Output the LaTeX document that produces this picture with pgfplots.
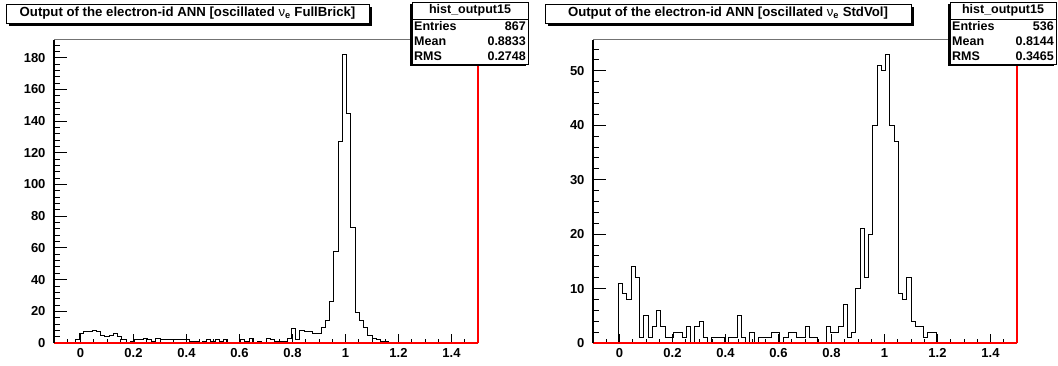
\documentclass[border=0pt]{standalone}
\usepackage{pgfplots}
\pgfplotsset{compat=1.18}
\usepackage{fontspec}
\setmainfont{Liberation Sans}
\newcommand{\tickfont}{\fontsize{13}{13}\selectfont\bfseries}
\newcommand{\boxfont}{\fontsize{12.5}{12.5}\selectfont\bfseries}
\newcommand{\titlefont}{\fontsize{13.2}{13.2}\selectfont\bfseries}
\pgfplotsset{
  rootbase/.style={
    scale only axis, anchor=south west, width=424pt, height=303pt,
    xmin=-0.1, xmax=1.5, clip=false,
    axis line style={draw=none},
    tick align=inside, tick pos=left,
    tick style={black, line width=0.8pt},
    /pgf/number format/assume math mode=true,
    tick label style={font=\tickfont},
  },
  yaxisonly/.style={rootbase, xtick=\empty, major tick length=12.7pt, minor tick length=6.3pt,
    yticklabel style={xshift=-5pt}},
  xaxisonly/.style={rootbase, ytick=\empty, ymin=0, ymax=1,
    xtick={0,0.2,0.4,0.6,0.8,1,1.2,1.4},
    minor xtick={-0.1,-0.05,...,1.5},
    major tick length=9pt, minor tick length=4.5pt,
    xticklabel style={yshift=-2pt}},
}
\begin{document}
\begin{tikzpicture}
\fill[white] (0pt,0pt) rectangle (1058pt,365pt);
\useasboundingbox (0pt,0pt) rectangle (1058pt,365pt);

% ---------------- left panel ----------------
\begin{axis}[xaxisonly, at={(54pt,22pt)}]
\end{axis}
\begin{axis}[yaxisonly, at={(54pt,22pt)}, ymin=0, ymax=191.1,
  ytick={0,20,...,180}, minor ytick={0,4,...,188}]
\draw[black!55, line width=1pt] (axis cs:-0.1,191.1) -- (axis cs:1.5,191.1);
\addplot[const plot, black, line width=1pt] coordinates {
(-0.100,0) (-0.084,0) (-0.068,0) (-0.052,0) (-0.036,0) (-0.020,2) (-0.004,6) (0.012,7) (0.028,7) (0.044,8)
(0.060,7) (0.076,5) (0.092,4) (0.108,5) (0.124,6) (0.140,4) (0.156,2) (0.172,0) (0.188,1) (0.204,2)
(0.220,2) (0.236,3) (0.252,2) (0.268,1) (0.284,3) (0.300,2) (0.316,2) (0.332,2) (0.348,2) (0.364,2)
(0.380,2) (0.396,2) (0.412,1) (0.428,1) (0.444,0) (0.460,1) (0.476,2) (0.492,1) (0.508,2) (0.524,1)
(0.540,2) (0.556,0) (0.572,0) (0.588,0) (0.604,2) (0.620,1) (0.636,3) (0.652,0) (0.668,1) (0.684,0)
(0.700,3) (0.716,2) (0.732,1) (0.748,1) (0.764,1) (0.780,3) (0.796,9) (0.812,2) (0.828,8) (0.844,7)
(0.860,7) (0.876,6) (0.892,6) (0.908,10) (0.924,14) (0.940,26) (0.956,58) (0.972,127) (0.988,182) (1.004,145)
(1.020,73) (1.036,19) (1.052,14) (1.068,10) (1.084,5) (1.100,3) (1.116,2) (1.132,1) (1.148,1) (1.164,0)
(1.180,0) (1.196,0) (1.500,0)
};
\draw[red, line width=1.2pt] (axis cs:-0.1,0) -- (axis cs:1.5,0);
\draw[red, line width=1.4pt] (axis cs:1.5,0) -- (axis cs:1.5,191.1);
\draw[black, line width=1.3pt] (axis cs:-0.1,0) -- (axis cs:-0.1,191.1);
\end{axis}

% ---------------- right panel ----------------
\begin{axis}[xaxisonly, at={(593pt,22pt)}]
\end{axis}
\begin{axis}[yaxisonly, at={(593pt,22pt)}, ymin=0, ymax=55.65,
  ytick={0,10,...,50}, minor ytick={0,2,...,54}]
\draw[black!55, line width=1pt] (axis cs:-0.1,55.65) -- (axis cs:1.5,55.65);
\addplot[const plot, black, line width=1pt] coordinates {
(-0.100,0) (-0.084,0) (-0.068,0) (-0.052,0) (-0.036,0) (-0.020,0) (-0.004,11) (0.012,9) (0.028,8) (0.044,14)
(0.060,12) (0.076,1) (0.092,5) (0.108,1) (0.124,3) (0.140,6) (0.156,3) (0.172,1) (0.188,1) (0.204,2)
(0.220,2) (0.236,1) (0.252,3) (0.268,0) (0.284,3) (0.300,4) (0.316,1) (0.332,0) (0.348,1) (0.364,1)
(0.380,1) (0.396,0) (0.412,1) (0.428,1) (0.444,5) (0.460,1) (0.476,0) (0.492,2) (0.508,0) (0.524,1)
(0.540,1) (0.556,1) (0.572,2) (0.588,2) (0.604,0) (0.620,1) (0.636,2) (0.652,2) (0.668,1) (0.684,1)
(0.700,3) (0.716,1) (0.732,1) (0.748,0) (0.764,0) (0.780,3) (0.796,2) (0.812,2) (0.828,3) (0.844,7)
(0.860,1) (0.876,2) (0.892,10) (0.908,21) (0.924,12) (0.940,20) (0.956,40) (0.972,51) (0.988,50) (1.004,53)
(1.020,40) (1.036,37) (1.052,9) (1.068,8) (1.084,12) (1.100,4) (1.116,3) (1.132,3) (1.148,1) (1.164,2)
(1.180,2) (1.196,0) (1.500,0)
};
\draw[red, line width=1.2pt] (axis cs:-0.1,0) -- (axis cs:1.5,0);
\draw[red, line width=1.4pt] (axis cs:1.5,0) -- (axis cs:1.5,55.65);
\draw[black, line width=1.3pt] (axis cs:-0.1,0) -- (axis cs:-0.1,55.65);
\end{axis}

% ---------------- titles ----------------
\fill[black] (9pt,339pt) rectangle (372pt,358pt);
\draw[fill=white, line width=0.8pt] (6pt,342pt) rectangle (369pt,361pt);
\node[font=\titlefont, inner sep=0pt] at (187.5pt,351.5pt) {Output of the electron-id ANN [oscillated {\mdseries ν}\textsubscript{e} FullBrick]};

\fill[black] (548pt,339pt) rectangle (914pt,358pt);
\draw[fill=white, line width=0.8pt] (545pt,342pt) rectangle (911pt,361pt);
\node[font=\titlefont, inner sep=0pt] at (728pt,351.5pt) {Output of the electron-id ANN [oscillated {\mdseries ν}\textsubscript{e} StdVol]};

% ---------------- stat boxes ----------------
\fill[black] (410pt,299pt) rectangle (526pt,361pt);
\draw[fill=white, line width=0.8pt] (412pt,301pt) rectangle (528pt,363pt);
\draw[line width=0.8pt] (412pt,346pt) -- (528pt,346pt);
\node[font=\boxfont, inner sep=0pt] at (470pt,354.5pt) {hist\_output15};
\node[font=\boxfont, inner sep=0pt, anchor=west] at (414pt,338.5pt) {Entries};
\node[font=\boxfont, inner sep=0pt, anchor=east] at (526pt,338.5pt) {867};
\node[font=\boxfont, inner sep=0pt, anchor=west] at (414pt,323.5pt) {Mean};
\node[font=\boxfont, inner sep=0pt, anchor=east] at (526pt,323.5pt) {0.8833};
\node[font=\boxfont, inner sep=0pt, anchor=west] at (414pt,308.5pt) {RMS};
\node[font=\boxfont, inner sep=0pt, anchor=east] at (526pt,308.5pt) {0.2748};

\fill[black] (948pt,299pt) rectangle (1054pt,361pt);
\draw[fill=white, line width=0.8pt] (950pt,301pt) rectangle (1056pt,363pt);
\draw[line width=0.8pt] (950pt,346pt) -- (1056pt,346pt);
\node[font=\boxfont, inner sep=0pt] at (1003pt,354.5pt) {hist\_output15};
\node[font=\boxfont, inner sep=0pt, anchor=west] at (952pt,338.5pt) {Entries};
\node[font=\boxfont, inner sep=0pt, anchor=east] at (1054pt,338.5pt) {536};
\node[font=\boxfont, inner sep=0pt, anchor=west] at (952pt,323.5pt) {Mean};
\node[font=\boxfont, inner sep=0pt, anchor=east] at (1054pt,323.5pt) {0.8144};
\node[font=\boxfont, inner sep=0pt, anchor=west] at (952pt,308.5pt) {RMS};
\node[font=\boxfont, inner sep=0pt, anchor=east] at (1054pt,308.5pt) {0.3465};
\end{tikzpicture}
\end{document}
